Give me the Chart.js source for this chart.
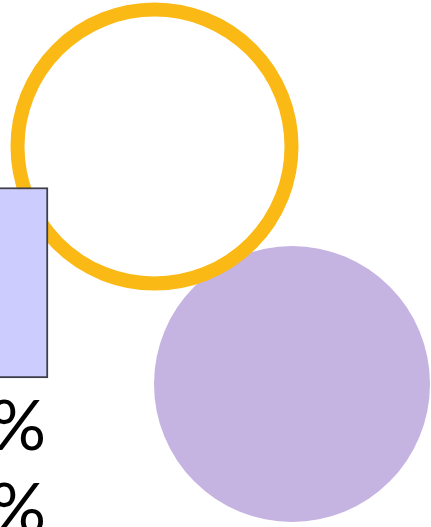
<!DOCTYPE html>
<html>
<head>
<meta charset="utf-8">
<script src="https://cdn.jsdelivr.net/npm/chart.js@4"></script>
<style>
  html, body { margin: 0; padding: 0; background: #ffffff; }
  #wrap { width: 431px; height: 527px; }
</style>
</head>
<body>
<div id="wrap"><canvas id="chart" width="431" height="527"></canvas></div>
<script>
// values in chart units (1 unit = 10 px of the plot area)
const circleX = [15.45, 29.2];
const circleY = [14.65, 38.4];
const circleR = [137, 138];
const barX = [-1.2];
const barLow = [18.75];
const barHigh = [37.8];
const labelX = [4.6, 4.6];
const labelY = [45.0, 53.3];
const labelText = ['50%', '40%'];

const labelPlugin = {
    id: 'barLabels',
    afterDatasetsDraw(chart) {
        const ctx = chart.ctx;
        const xs = chart.scales.x;
        const ys = chart.scales.y;
        ctx.save();
        ctx.fillStyle = '#000000';
        ctx.font = '70px Lato';
        ctx.textAlign = 'right';
        ctx.textBaseline = 'alphabetic';
        labelText.forEach((t, i) => {
            ctx.fillText(t, xs.getPixelForValue(labelX[i]), ys.getPixelForValue(labelY[i]));
        });
        ctx.restore();
    }
};

const makeChart = () => {
    const ctx = document.getElementById('chart').getContext('2d');
    new Chart(ctx, {
        type: 'bubble',
        data: {
            datasets: [
                {
                    type: 'bar',
                    label: 'bar',
                    order: 1,
                    data: barX.map((x, i) => ({ x: x, y: [barLow[i], barHigh[i]] })),
                    backgroundColor: '#ccccff',
                    borderColor: '#3e3e4a',
                    borderWidth: 2,
                    borderSkipped: false,
                    barThickness: 120,
                },
                {
                    label: 'ring',
                    order: 2,
                    data: [{ x: circleX[0], y: circleY[0], r: circleR[0] }],
                    backgroundColor: 'rgba(255,255,255,0)',
                    borderColor: '#fbb916',
                    borderWidth: 14,
                },
                {
                    label: 'disc',
                    order: 3,
                    data: [{ x: circleX[1], y: circleY[1], r: circleR[1] }],
                    backgroundColor: '#c5b3e1',
                    borderWidth: 0,
                },
            ],
        },
        options: {
            responsive: false,
            animation: false,
            layout: { padding: 0, autoPadding: false },
            scales: {
                x: { type: 'linear', min: 0, max: 43.1, offset: false, display: false },
                y: { type: 'linear', min: 0, max: 52.7, offset: false, reverse: true, display: false },
            },
            plugins: {
                legend: { display: false },
                tooltip: { enabled: false },
            },
        },
        plugins: [labelPlugin],
    });
};

document.fonts.load('70px Lato').then(makeChart, makeChart);
</script>
</body>
</html>
